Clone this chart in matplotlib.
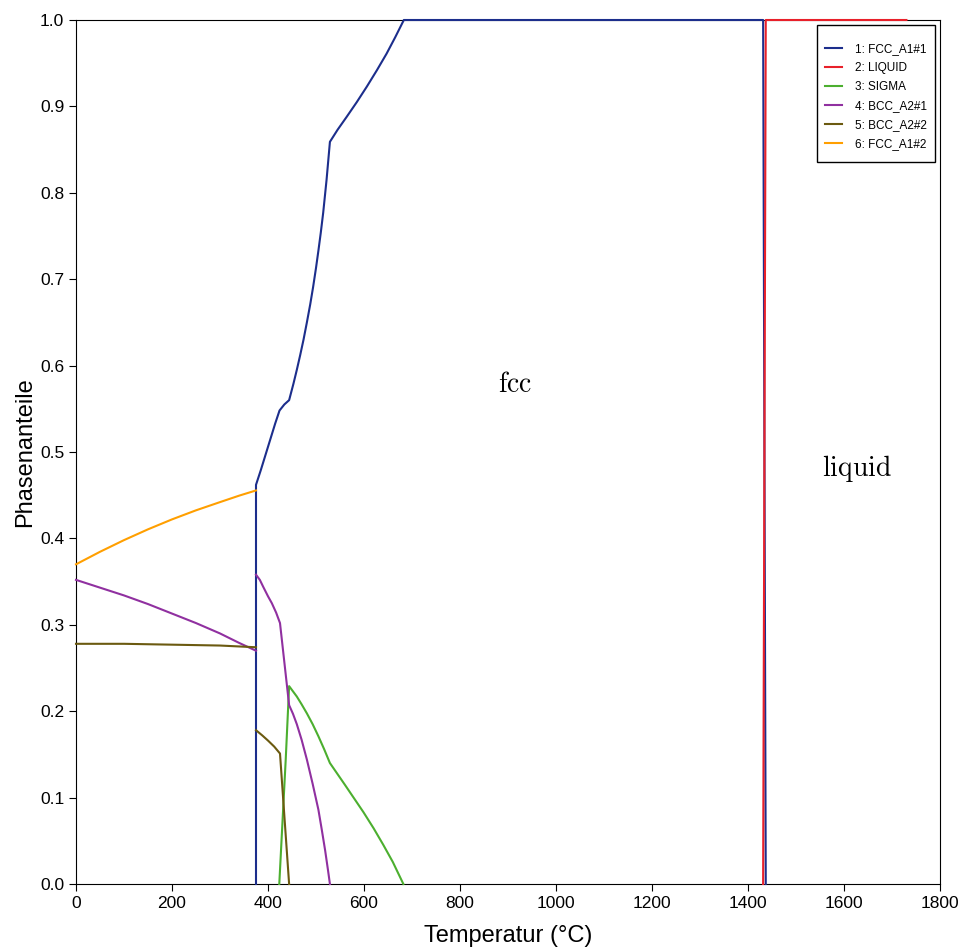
import numpy as np
import matplotlib
matplotlib.use("Agg")
import matplotlib.pyplot as plt
from matplotlib.patches import Rectangle
from matplotlib.transforms import IdentityTransform

plt.rcParams["font.family"] = ["Liberation Sans", "DejaVu Sans"]
plt.rcParams["mathtext.fontset"] = "cm"

nan = np.nan

# Phasenanteile ueber Temperatur, Segmente durch nan getrennt
t_fcc1 = [375, 375, 385, 395, 405, 415, 424, 434, 444, 453, 460, 467, 474, 481,
          488, 494, 500, 505, 510, 515, 522, 529, 545, 564, 585, 606, 627, 647,
          665, 683, 1431.5, 1437]
y_fcc1 = [0.0, 0.462, 0.479, 0.497, 0.515, 0.533, 0.548, 0.555, 0.560, 0.579,
          0.595, 0.612, 0.630, 0.650, 0.671, 0.691, 0.713, 0.733, 0.754, 0.777,
          0.815, 0.859, 0.873, 0.888, 0.905, 0.923, 0.942, 0.961, 0.980, 1.0,
          1.0, 0.0]

t_liquid = [1431.5, 1437, 1730]
y_liquid = [0.0, 1.0, 1.0]

t_sigma = [423.5, 430, 437, 444, 452, 460, 470, 481, 493, 505, 517, 529, 560,
           599, 620, 640, 660, 682]
y_sigma = [0.0, 0.070, 0.145, 0.229, 0.223, 0.217, 0.208, 0.1975, 0.185, 0.171,
           0.156, 0.140, 0.115, 0.083, 0.0645, 0.0455, 0.0255, 0.0]

t_bcc1 = [0, 50, 100, 150, 200, 250, 300, 340, 375, nan,
          375, 383, 390, 400, 408, 417, 425, 444, 452, 460, 470, 481, 493, 505,
          512, 519, 525, 529]
y_bcc1 = [0.352, 0.343, 0.334, 0.324, 0.313, 0.302, 0.290, 0.279, 0.270, nan,
          0.358, 0.352, 0.344, 0.333, 0.325, 0.314, 0.302, 0.207, 0.197, 0.185,
          0.167, 0.144, 0.116, 0.086, 0.063, 0.039, 0.016, 0.0]

t_bcc2 = [0, 100, 200, 300, 375, nan, 375, 388, 400, 413, 425, 444]
y_bcc2 = [0.278, 0.278, 0.277, 0.276, 0.274, nan, 0.178, 0.172, 0.166, 0.159,
          0.151, 0.0]

t_fcc2 = [0, 50, 100, 150, 200, 250, 300, 340, 375]
y_fcc2 = [0.370, 0.3845, 0.398, 0.4105, 0.422, 0.4325, 0.442, 0.4495, 0.4555]

phases = [
    ("1: FCC_A1#1", t_fcc1, y_fcc1, "#1c2e8c"),
    ("2: LIQUID", t_liquid, y_liquid, "#e8202a"),
    ("3: SIGMA", t_sigma, y_sigma, "#4caf2f"),
    ("4: BCC_A2#1", t_bcc1, y_bcc1, "#9030a0"),
    ("5: BCC_A2#2", t_bcc2, y_bcc2, "#6b5a10"),
    ("6: FCC_A1#2", t_fcc2, y_fcc2, "#ff9f00"),
]

fig = plt.figure(figsize=(9.62, 9.49), dpi=100)
ax = fig.add_axes([76 / 962, 65 / 949, 864 / 962, 864 / 949])

for label, t, y, color in phases:
    ax.plot(t, y, color=color, linewidth=1.5, label=label, zorder=3, clip_on=False)

ax.set_xlim(0, 1800)
ax.set_ylim(0, 1.0)
ax.set_xticks(np.arange(0, 1801, 200))
ax.set_yticks(np.arange(0, 1.01, 0.1))
ax.yaxis.set_major_formatter(matplotlib.ticker.FormatStrFormatter("%.1f"))
ax.tick_params(direction="out", length=5, labelsize=12.5, top=False, right=False)

ax.set_xlabel("Temperatur (°C)", fontsize=17, labelpad=10)
ax.set_ylabel("Phasenanteile", fontsize=17, labelpad=2.5)

ax.text(915, 0.577, r"$\mathrm{fcc}$", fontsize=20, ha="center", va="center")
ax.text(1627, 0.481, r"$\mathrm{liquid}$", fontsize=20, ha="center", va="center")

# Legende ohne eigenen Rahmen, Rahmen danach mit mehr Luft oben/unten
leg = ax.legend(loc="upper right", bbox_to_anchor=(1 - 5 / 864, 1 - 15 / 864),
                borderaxespad=0, frameon=False, fontsize=8.5, handlelength=1.44,
                handletextpad=1.1, labelspacing=0.6, borderpad=0.68)
fig.canvas.draw()
bb = leg.get_window_extent()
frame = Rectangle((bb.x0, bb.y0 - 4), bb.width, bb.height + 14,
                  transform=IdentityTransform(), facecolor="white",
                  edgecolor="black", linewidth=1.0, zorder=4)
fig.add_artist(frame)
leg.set_zorder(5)
leg.remove()
fig.add_artist(leg)

fig.savefig("out.png", dpi=100)
